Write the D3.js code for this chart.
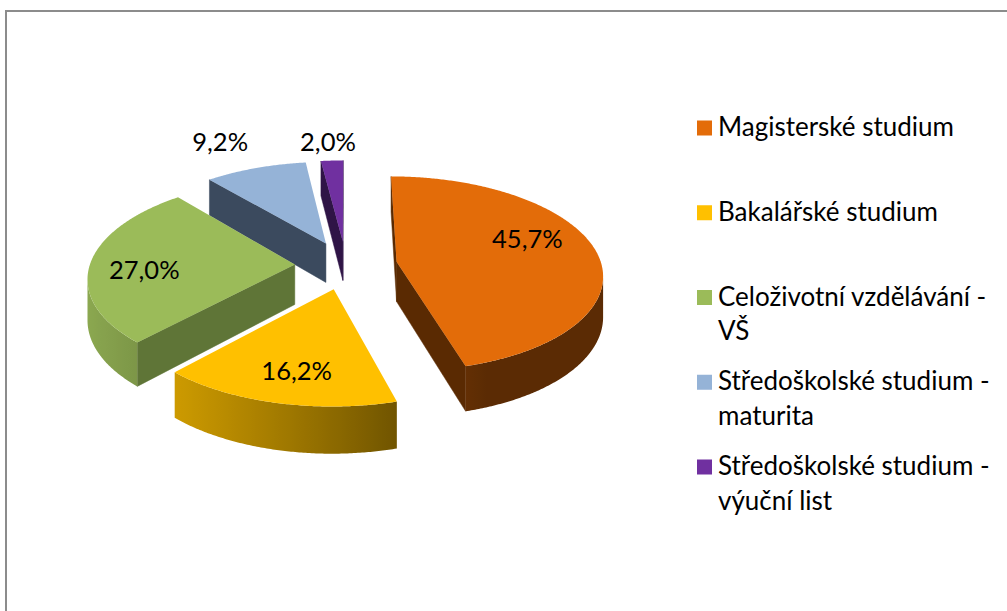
<!DOCTYPE html>
<html>
<head>
<meta charset="utf-8">
<script src="https://cdn.jsdelivr.net/npm/d3@7"></script>
<style>
  body { margin: 0; background: #fff; }
  svg { display: block; }
  text { font-family: Lato, "Open Sans", sans-serif; fill: #000; }
</style>
</head>
<body>
<svg id="chart" width="1007" height="611"></svg>
<script>
// ---- data ----
const categories = [
  "Magisterské studium",
  "Bakalářské studium",
  "Celoživotní vzdělávání - VŠ",
  "Středoškolské studium - maturita",
  "Středoškolské studium - výuční list"
];
const legendLines = [
  ["Magisterské studium"],
  ["Bakalářské studium"],
  ["Celoživotní vzdělávání -", "VŠ"],
  ["Středoškolské studium -", "maturita"],
  ["Středoškolské studium -", "výuční list"]
];
const shares = [45.7, 16.2, 27.0, 9.2, 2.0];
const valueLabels = ["45,7%", "16,2%", "27,0%", "9,2%", "2,0%"];

// ---- style ----
const topColors  = ["#E36C09", "#FFC000", "#9BBB59", "#95B3D7", "#7030A0"];
const sideColors = ["#5A2A02", "#7A5C00", "#5F7537", "#3B4A5E", "#2F1446"];
// label anchor on each slice: [angle in degrees, radius as fraction of the pie radius]
const labelPlacement = [[70, 0.71], [192, 0.74], [265.5, 0.73], [334, 1.43], [356, 1.27]];

// 3D view of the pie: centre, horizontal/vertical radii, perspective, thickness, explosion
const view = { cx: 346, cy: 265, A: 205, B: 96.5, p: 0.1225, H: 40, explode: 0.25 };

const svg = d3.select("#chart");
const defs = svg.append("defs");

// chart frame
svg.append("path")
  .attr("d", "M6,620V11H1020")
  .attr("fill", "none")
  .attr("stroke", "#8c8c8c")
  .attr("stroke-width", 2);

// X, Z in pie-radius units on the disc (Z pointing away from viewer), Y = depth below top face
function proj(X, Z, Y) {
  const k = 1 / (1 + view.p * Z);
  return [view.cx + X * view.A * k, view.cy - Z * view.B * k + Y * k];
}

const pie = d3.pie().sort(null).value(d => d).startAngle(0).endAngle(2 * Math.PI);
const arcs = pie(shares).map((a, i) => {
  const mid = (a.startAngle + a.endAngle) / 2;
  return {
    ...a, i, mid,
    ox: view.explode * Math.sin(mid),
    oz: view.explode * Math.cos(mid)
  };
});

const toRad = d => d * Math.PI / 180;
function rimPoint(s, th, Y) { return proj(s.ox + Math.sin(th), s.oz + Math.cos(th), Y); }
function apexPoint(s, Y) { return proj(s.ox, s.oz, Y); }

function area(pts) {
  let a = 0;
  for (let j = 0; j < pts.length; j++) {
    const p = pts[j], q = pts[(j + 1) % pts.length];
    a += p[0] * q[1] - q[0] * p[1];
  }
  return a / 2;
}
const line = d3.line();

// shading of the outer wall, brighter where it faces the left
function wallShade(th) {
  const deg = th * 180 / Math.PI;
  return 0.4 + 0.5 * Math.max(0, Math.cos(toRad((deg - 265) * 0.85)));
}
function scaled(color, f) {
  const c = d3.rgb(color);
  return d3.rgb(c.r * f, c.g * f, c.b * f).formatHex();
}

// paint slices from back to front
const order = arcs.slice().sort((a, b) => b.oz - a.oz);
const gPie = svg.append("g");

order.forEach(s => {
  const g = gPie.append("g");
  const H = view.H;

  // cut faces at the two ends of the slice
  [["start", s.startAngle], ["end", s.endAngle]].forEach(([kind, th]) => {
    const quad = [apexPoint(s, 0), rimPoint(s, th, 0), rimPoint(s, th, H), apexPoint(s, H)];
    const a = area(quad);
    const visible = kind === "end" ? a > 0 : a < 0;
    if (visible) {
      g.append("path")
        .attr("d", line(quad) + "Z")
        .attr("fill", sideColors[s.i])
        .attr("stroke", sideColors[s.i])
        .attr("stroke-width", 0.5);
    }
  });

  // outer wall: the part of the rim facing the viewer, shaded with a horizontal gradient
  const n = Math.max(2, Math.ceil((s.endAngle - s.startAngle) / toRad(0.5)));
  const step = (s.endAngle - s.startAngle) / n;
  const front = [];
  for (let j = 0; j < n; j++) {
    const t0 = s.startAngle + j * step, t1 = t0 + step;
    const quad = [rimPoint(s, t0, 0), rimPoint(s, t1, 0), rimPoint(s, t1, H), rimPoint(s, t0, H)];
    if (area(quad) < 0) front.push(t0, t1);
  }
  if (front.length) {
    const ta = d3.min(front), tb = d3.max(front);
    const m = Math.max(2, Math.ceil((tb - ta) / toRad(0.5)));
    const ts = d3.range(m + 1).map(j => ta + (tb - ta) * j / m);
    const topEdge = ts.map(t => rimPoint(s, t, 0));
    const botEdge = ts.map(t => rimPoint(s, t, H)).reverse();
    const x1 = topEdge[0][0], x2 = topEdge[topEdge.length - 1][0];
    const gid = "wall" + s.i;
    const grad = defs.append("linearGradient")
      .attr("id", gid)
      .attr("gradientUnits", "userSpaceOnUse")
      .attr("x1", x1).attr("y1", 0).attr("x2", x2).attr("y2", 0);
    ts.filter((t, j) => j % 4 === 0 || j === m).forEach(t => {
      const x = rimPoint(s, t, 0)[0];
      grad.append("stop")
        .attr("offset", (x - x1) / (x2 - x1))
        .attr("stop-color", scaled(topColors[s.i], wallShade(t)));
    });
    g.append("path")
      .attr("d", line(topEdge.concat(botEdge)) + "Z")
      .attr("fill", `url(#${gid})`);
  }

  // top face
  const m2 = Math.max(2, Math.ceil((s.endAngle - s.startAngle) / toRad(0.5)));
  const pts = [apexPoint(s, 0)];
  for (let j = 0; j <= m2; j++) pts.push(rimPoint(s, s.startAngle + (s.endAngle - s.startAngle) * j / m2, 0));
  g.append("path")
    .attr("d", line(pts) + "Z")
    .attr("fill", topColors[s.i]);
});

// value labels
const gLabels = svg.append("g");
arcs.forEach(s => {
  const [deg, r] = labelPlacement[s.i];
  const th = toRad(deg);
  const [x, y] = proj(s.ox + r * Math.sin(th), s.oz + r * Math.cos(th), 0);
  gLabels.append("text")
    .attr("x", x)
    .attr("y", y)
    .attr("dy", "0.35em")
    .attr("text-anchor", "middle")
    .attr("font-size", 25.5)
    .text(valueLabels[s.i]);
});

// legend
const legendY = d3.scalePoint().domain(d3.range(categories.length)).range([128, 467]);
const gLegend = svg.append("g");
categories.forEach((c, i) => {
  const y = legendY(i);
  gLegend.append("rect")
    .attr("x", 697).attr("y", y - 7.5)
    .attr("width", 15).attr("height", 15)
    .attr("fill", topColors[i]);
  const t = gLegend.append("text")
    .attr("x", 718).attr("y", y + 8)
    .attr("font-size", 26);
  legendLines[i].forEach((ln, k) => {
    t.append("tspan").attr("x", 718).attr("dy", k === 0 ? 0 : 34.5).text(ln);
  });
});
</script>
</body>
</html>
